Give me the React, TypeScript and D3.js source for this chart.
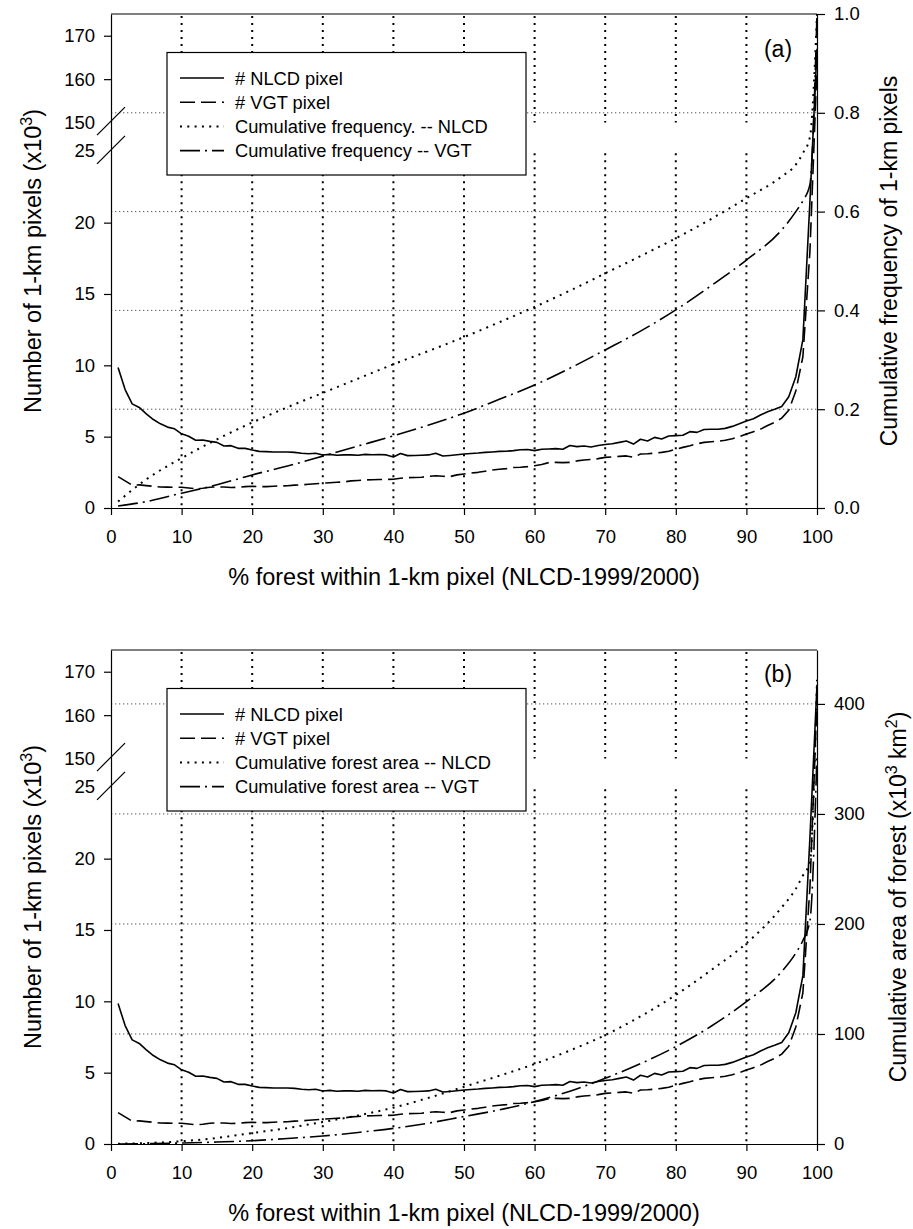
import React, { useEffect, useRef } from "react";
import * as d3 from "d3";

const width = 913;
const height = 1229;
const FONT = "'Liberation Sans', Arial, Helvetica, sans-serif";

// % forest within the 1-km pixel (x categories)
const pct = d3.range(1, 101);

// number of 1-km pixels (x10^3), pct 1..100
const nlcdPixels = [
  9.85, 8.3, 7.3, 7.05, 6.6, 6.2, 5.9, 5.67, 5.55, 5.2,
  5.03, 4.75, 4.77, 4.67, 4.6, 4.35, 4.37, 4.18, 4.18, 4.06,
  3.97, 3.95, 3.93, 3.93, 3.93, 3.9, 3.84, 3.8, 3.84, 3.72,
  3.76, 3.7, 3.72, 3.72, 3.7, 3.76, 3.73, 3.75, 3.72, 3.57,
  3.82, 3.67, 3.68, 3.7, 3.72, 3.84, 3.64, 3.68, 3.73, 3.79,
  3.82, 3.85, 3.9, 3.93, 3.97, 3.98, 4.02, 4.08, 4.1, 4.02,
  4.12, 4.14, 4.16, 4.12, 4.38, 4.3, 4.35, 4.28, 4.38, 4.45,
  4.5, 4.6, 4.7, 4.48, 4.82, 4.7, 4.95, 4.84, 5.05, 5.07,
  5.1, 5.35, 5.3, 5.5, 5.52, 5.52, 5.58, 5.72, 5.9, 6.1,
  6.25, 6.52, 6.75, 6.92, 7.12, 7.8, 9.2, 11.8, 21.5, 167,
];
const vgtPixels = [
  2.2, 1.9, 1.6, 1.62, 1.57, 1.52, 1.47, 1.46, 1.45, 1.45,
  1.4, 1.35, 1.38, 1.45, 1.48, 1.47, 1.44, 1.45, 1.5, 1.52,
  1.5, 1.5, 1.52, 1.55, 1.56, 1.6, 1.63, 1.66, 1.7, 1.74,
  1.77, 1.8, 1.83, 1.9, 1.93, 1.97, 1.98, 2.0, 2.0, 2.02,
  2.08, 2.13, 2.14, 2.16, 2.22, 2.26, 2.22, 2.2, 2.32, 2.38,
  2.45, 2.5, 2.58, 2.66, 2.72, 2.76, 2.84, 2.86, 2.9, 2.96,
  3.05, 3.18, 3.2, 3.18, 3.2, 3.3, 3.36, 3.4, 3.46, 3.55,
  3.58, 3.62, 3.65, 3.55, 3.78, 3.8, 3.84, 3.9, 3.98, 4.12,
  4.25, 4.36, 4.5, 4.6, 4.64, 4.68, 4.75, 4.85, 5.0, 5.18,
  5.35, 5.53, 5.78, 6.0, 6.3, 6.85, 8.2, 10.6, 18, 163,
];

// cumulative curves, read at these pct values
const cumPct = [1, 5, 10, 15, 20, 25, 30, 35, 40, 45, 50, 55, 60, 65, 70, 75, 80, 85, 90, 95, 97, 98, 99, 100];
const cumFreqNlcd = [0.013, 0.058, 0.101, 0.139, 0.173, 0.204, 0.233, 0.262, 0.291, 0.318, 0.346, 0.376, 0.407, 0.44, 0.475, 0.51, 0.546, 0.585, 0.627, 0.671, 0.695, 0.718, 0.751, 1.0];
const cumFreqVgt = [0.004, 0.013, 0.03, 0.047, 0.067, 0.085, 0.105, 0.1255, 0.146, 0.168, 0.192, 0.22, 0.249, 0.283, 0.32, 0.358, 0.401, 0.45, 0.502, 0.563, 0.6, 0.622, 0.655, 1.0];
const cumAreaNlcd = [0.2, 0.9, 2.5, 5.5, 10, 14.5, 20, 26, 33, 42, 52, 62, 72.7, 85, 99, 116, 135.5, 158, 182.4, 215, 232, 244, 256, 422];
const cumAreaVgt = [0.05, 0.3, 0.9, 1.8, 3, 5, 7.3, 10.5, 14.2, 19, 25, 31, 38.5, 48, 59.7, 73, 88.5, 107, 129.4, 156.7, 173.6, 185, 203, 355];

// axis ticks
const xTicks = [0, 10, 20, 30, 40, 50, 60, 70, 80, 90, 100];
const xGrid = [10, 20, 30, 40, 50, 60, 70, 80, 90];
const leftTicks = [0, 5, 10, 15, 20, 160, 170];
const leftBreakLabels = [25, 150];
const rightTicksA = [0, 0.2, 0.4, 0.6, 0.8, 1.0];
const rightTicksB = [0, 100, 200, 300, 400];

const legendA = ["# NLCD pixel", "# VGT pixel", "Cumulative frequency. -- NLCD", "Cumulative frequency -- VGT"];
const legendB = ["# NLCD pixel", "# VGT pixel", "Cumulative forest area -- NLCD", "Cumulative forest area -- VGT"];

const styles = [
  { dash: null, width: 1.6 },
  { dash: "15,6", width: 1.6 },
  { dash: "2,5.3", width: 2 },
  { dash: "20,5,2,5", width: 1.6 },
];

const X0 = 111;
const X1 = 817;
const PH = 494;
const TICK_FS = 18.5;

export default function App() {
  const ref = useRef<SVGSVGElement | null>(null);

  useEffect(() => {
    const svg = d3.select(ref.current);
    svg.selectAll("*").remove();

    const panels = [
      {
        id: "a", top: 14, rightMax: 1.0, rightTicks: rightTicksA, fmt: d3.format(".1f"),
        cumNlcd: cumFreqNlcd, cumVgt: cumFreqVgt, legend: legendA, tag: "(a)", tagY: 57,
        rightTitleX: 897,
      },
      {
        id: "b", top: 650, rightMax: 449, rightTicks: rightTicksB, fmt: d3.format("d"),
        cumNlcd: cumAreaNlcd, cumVgt: cumAreaVgt, legend: legendB, tag: "(b)", tagY: 682,
        rightTitleX: 906,
      },
    ];

    panels.forEach((p) => {
      const top = p.top;
      const bottom = top + PH;
      const x = d3.scaleLinear().domain([0, 100]).range([X0, X1]);
      const yL = d3.scaleLinear().domain([0, 25, 150, 175]).range([bottom, top + 137.3, top + 108.6, top]);
      const yR = d3.scaleLinear().domain([0, p.rightMax]).range([bottom, top]);

      const g = svg.append("g").attr("font-family", FONT);

      g.append("clipPath").attr("id", "clip-" + p.id)
        .append("rect").attr("x", X0).attr("y", top).attr("width", X1 - X0).attr("height", PH);

      // horizontal grid (right axis)
      g.append("g").selectAll("line")
        .data(p.rightTicks.filter((t) => t > 0 && t < p.rightMax))
        .join("line")
        .attr("x1", X0).attr("x2", X1)
        .attr("y1", (d) => yR(d)).attr("y2", (d) => yR(d))
        .attr("stroke", "#555").attr("stroke-width", 1).attr("stroke-dasharray", "1.3,2.7");

      // vertical grid, broken at the axis break
      const vg = g.append("g").attr("stroke", "#000").attr("stroke-width", 2).attr("stroke-dasharray", "2,5");
      vg.selectAll("line.up").data(xGrid).join("line").attr("class", "up")
        .attr("x1", (d) => x(d)).attr("x2", (d) => x(d))
        .attr("y1", top + 2).attr("y2", yL(150));
      vg.selectAll("line.lo").data(xGrid).join("line").attr("class", "lo")
        .attr("x1", (d) => x(d)).attr("x2", (d) => x(d))
        .attr("y1", yL(25) + 2).attr("y2", bottom);

      // series
      const series = g.append("g").attr("clip-path", `url(#clip-${p.id})`).attr("fill", "none").attr("stroke", "#000");
      const countLine = d3.line<number>().x((d, i) => x(pct[i])).y((d) => yL(d));
      const cumLine = d3.line<number>().x((d, i) => x(cumPct[i])).y((d) => yR(d)).curve(d3.curveMonotoneX);
      const paths = [
        countLine(nlcdPixels),
        countLine(vgtPixels),
        cumLine(p.cumNlcd),
        cumLine(p.cumVgt),
      ];
      paths.forEach((dPath, i) => {
        const s = styles[i];
        series.append("path").attr("d", dPath)
          .attr("stroke-width", s.width)
          .attr("stroke-linejoin", "round")
          .attr("stroke-dasharray", s.dash);
      });

      // legend
      const lg = g.append("g");
      lg.append("rect").attr("x", 167).attr("y", top + 38.5).attr("width", 359).attr("height", 122.5)
        .attr("fill", "#fff").attr("stroke", "#000").attr("stroke-width", 1.2);
      p.legend.forEach((label, i) => {
        const yy = top + 64 + i * 24.2;
        const s = styles[i];
        lg.append("line").attr("x1", 180).attr("x2", 224).attr("y1", yy).attr("y2", yy)
          .attr("stroke", "#000").attr("stroke-width", s.width).attr("stroke-dasharray", s.dash);
        lg.append("text").attr("x", 235).attr("y", yy + 6.5).attr("font-size", 18.3).text(label);
      });

      g.append("text").attr("x", 778).attr("y", p.tagY).attr("text-anchor", "middle")
        .attr("font-size", 23).text(p.tag);

      // frame
      g.append("line").attr("x1", X0).attr("x2", X1).attr("y1", top).attr("y2", top)
        .attr("stroke", "#000").attr("stroke-width", 1.2);

      // axes
      const styleAxis = (sel: any) => {
        sel.select(".domain").attr("stroke", "#000").attr("stroke-width", 1.2);
        sel.selectAll(".tick line").attr("stroke", "#000").attr("stroke-width", 1.2);
        sel.selectAll(".tick text").attr("font-size", TICK_FS).attr("font-family", FONT).attr("fill", "#000");
      };

      g.append("g").attr("transform", `translate(0,${bottom})`)
        .call(d3.axisBottom(x).tickValues(xTicks).tickSize(7).tickSizeOuter(0).tickPadding(15))
        .call(styleAxis);

      g.append("g").attr("transform", `translate(${X0},0)`)
        .call(d3.axisLeft(yL).tickValues(leftTicks).tickSize(7).tickSizeOuter(0).tickPadding(9))
        .call(styleAxis);

      g.append("g").attr("transform", `translate(${X1},0)`)
        .call(d3.axisRight(yR).tickValues(p.rightTicks).tickFormat(p.fmt as any).tickSize(8).tickSizeOuter(0).tickPadding(9))
        .call(styleAxis);

      // break labels and slashes
      leftBreakLabels.forEach((v) => {
        const yy = yL(v);
        g.append("text").attr("x", 95).attr("y", yy).attr("dy", "0.32em")
          .attr("text-anchor", "end").attr("font-size", TICK_FS).text(v);
        const yc = yy - 1.5;
        g.append("line").attr("x1", X0 - 14).attr("y1", yc + 14).attr("x2", X0 + 14).attr("y2", yc - 14)
          .attr("stroke", "#000").attr("stroke-width", 1.2);
      });

      // axis titles
      g.append("text").attr("x", 464).attr("y", top + 571).attr("text-anchor", "middle")
        .attr("font-size", 23.5).text("% forest within 1-km pixel (NLCD-1999/2000)");

      const lt = g.append("text").attr("transform", `translate(41,${top + 247}) rotate(-90)`)
        .attr("text-anchor", "middle").attr("font-size", 23.5);
      lt.append("tspan").text("Number of 1-km pixels (x10");
      lt.append("tspan").attr("dy", -9).attr("font-size", 16).text("3");
      lt.append("tspan").attr("dy", 9).text(")");

      const rt = g.append("text").attr("transform", `translate(${p.rightTitleX},${top + 247}) rotate(-90)`)
        .attr("text-anchor", "middle").attr("font-size", 23);
      if (p.id === "a") {
        rt.text("Cumulative frequency of 1-km pixels");
      } else {
        rt.append("tspan").text("Cumulative area of forest (x10");
        rt.append("tspan").attr("dy", -9).attr("font-size", 16).text("3");
        rt.append("tspan").attr("dy", 9).text(" km");
        rt.append("tspan").attr("dy", -9).attr("font-size", 16).text("2");
        rt.append("tspan").attr("dy", 9).text(")");
      }
    });
  }, []);

  return (
    <svg
      ref={ref}
      width={width}
      height={height}
      style={{ position: "absolute", top: 0, left: 0, display: "block", background: "#fff" }}
    />
  );
}
